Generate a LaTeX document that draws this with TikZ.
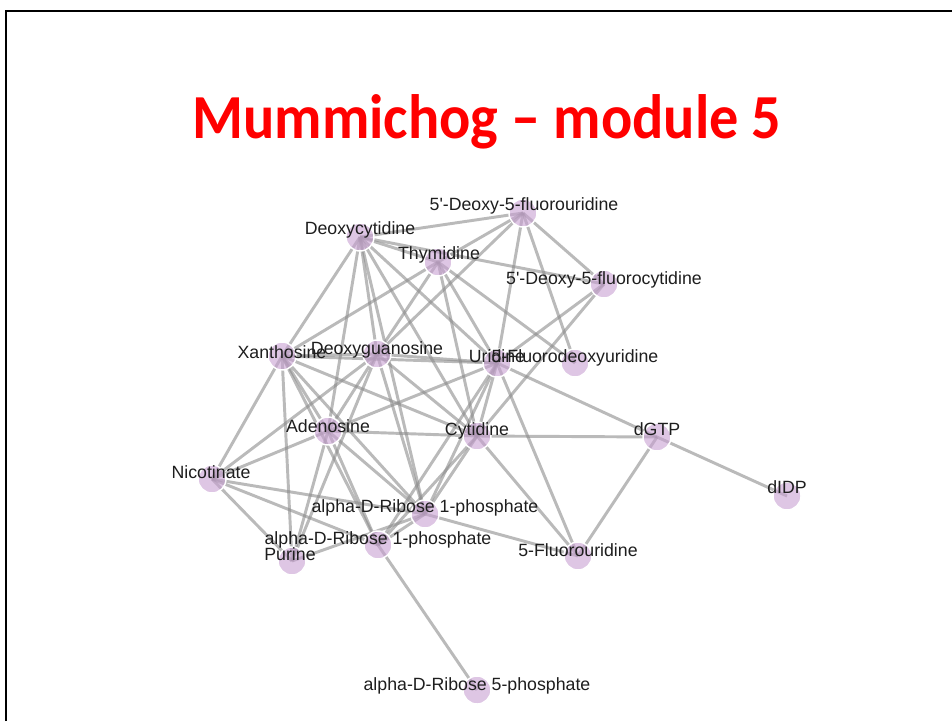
\documentclass[tikz,border=0pt]{standalone}
\usepackage{fontspec}
\setmainfont{Liberation Sans}[Ligatures=TeXOff]
\newfontfamily\titlefont{Carlito}
\usetikzlibrary{backgrounds}
\definecolor{edgegray}{RGB}{140,140,140}
\definecolor{nodefill}{RGB}{200,160,210}
\definecolor{labeltext}{RGB}{30,30,30}
\begin{document}
\begin{tikzpicture}[x=0.75pt,y=-0.75pt,
  edge/.style={draw=edgegray, draw opacity=0.6, line width=2.2pt},
  nd/.style={circle, minimum size=21pt, inner sep=0pt, fill=nodefill, fill opacity=0.6, draw=white, line width=1.1pt},
  lbl/.style={font=\fontsize{13.3}{15}\selectfont, text=labeltext, inner sep=0pt, anchor=base},
  frame/.style={draw=black, line width=2pt}]
\useasboundingbox (0,0) rectangle (952,721);
\draw[frame] (6,721) -- (6,11) -- (952,11);
\node[font=\titlefont\bfseries\fontsize{47}{50}\selectfont, text=red, anchor=base, xscale=0.93] (title) at (487,138) {Mummichog – module 5};
% nodes
\node[nd] (A) at (523,213) {};
\node[nd] (B) at (360,237) {};
\node[nd] (C) at (438,262) {};
\node[nd] (D) at (604,284) {};
\node[nd] (E) at (282,356) {};
\node[nd] (F) at (377,354) {};
\node[nd] (G) at (497,363) {};
\node[nd] (H) at (575,363) {};
\node[nd] (I) at (328,431) {};
\node[nd] (J) at (477,436) {};
\node[nd] (K) at (657,437) {};
\node[nd] (L) at (787,496) {};
\node[nd] (M) at (212,479) {};
\node[nd] (N) at (425,514) {};
\node[nd] (O) at (378,545) {};
\node[nd] (P) at (292,561) {};
\node[nd] (Q) at (578,556) {};
\node[nd] (R) at (477,690) {};
% edges
\begin{scope}[on background layer]
\fill[white] (0,0) rectangle (952,721);
\foreach \u/\v in {A/B,A/C,A/D,A/G,A/H,A/F,
  B/C,B/D,B/E,B/F,B/I,B/G,B/J,B/N,
  C/E,C/F,C/G,C/H,C/J,
  D/G,D/J,
  E/F,E/G,E/I,E/M,E/P,E/J,E/N,E/O,
  F/G,F/I,F/M,F/N,F/J,F/P,
  G/I,G/J,G/K,G/Q,G/N,G/O,
  I/J,I/M,I/N,I/O,I/P,
  J/K,J/Q,J/N,J/O,
  K/L,K/Q,
  M/N,M/O,M/P,
  N/O,N/Q,N/P,
  O/R}
  \draw[edge] (\u.center) -- (\v.center);
\end{scope}
% labels
\node[lbl] (A-l) at (524,210) {5'-Deoxy-5-fluorouridine};
\node[lbl] (B-l) at (360,234) {Deoxycytidine};
\node[lbl] (C-l) at (439,259) {Thymidine};
\node[lbl] (D-l) at (604,284) {5'-Deoxy-5-fluorocytidine};
\node[lbl] (E-l) at (282,358) {Xanthosine};
\node[lbl] (G-l) at (497,362) {Uridine};
\node[lbl] (F-l) at (377,354) {Deoxyguanosine};
\node[lbl] (H-l) at (575,362) {5-Fluorodeoxyuridine};
\node[lbl] (I-l) at (328,432) {Adenosine};
\node[lbl] (J-l) at (477,435) {Cytidine};
\node[lbl] (K-l) at (657,435) {dGTP};
\node[lbl] (L-l) at (787,493) {dIDP};
\node[lbl] (M-l) at (211,478) {Nicotinate};
\node[lbl] (N-l) at (425,512) {alpha-D-Ribose 1-phosphate};
\node[lbl] (O-l) at (378,544) {alpha-D-Ribose 1-phosphate};
\node[lbl] (P-l) at (290,560) {Purine};
\node[lbl] (Q-l) at (578,556) {5-Fluorouridine};
\node[lbl] (R-l) at (477,690) {alpha-D-Ribose 5-phosphate};
\end{tikzpicture}
\end{document}
